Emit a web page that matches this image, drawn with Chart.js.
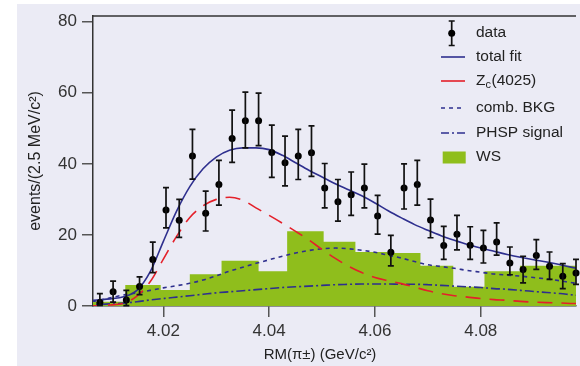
<!DOCTYPE html>
<html><head><meta charset="utf-8">
<script src="https://cdn.jsdelivr.net/npm/chart.js@4"></script>
<style>html,body{margin:0;padding:0;background:#fff;}canvas{display:block;}</style>
</head><body>
<canvas id="c" width="580" height="366"></canvas>
<script>
// ---- data ----
const dataX = [4.0080,4.0105,4.0130,4.0155,4.0180,4.0205,4.0230,4.0255,4.0280,4.0305,4.0330,4.0355,4.0380,4.0405,4.0430,4.0455,4.0480,4.0505,4.0530,4.0555,4.0580,4.0605,4.0630,4.0655,4.0680,4.0705,4.0730,4.0755,4.0780,4.0805,4.0830,4.0855,4.0880,4.0905,4.0930,4.0955,4.0980];
const dataY = [1.0,4.0,1.7,5.5,13.1,27.0,24.1,42.2,26.1,34.2,47.1,52.1,52.1,43.2,40.3,42.2,43.1,33.2,29.3,31.3,33.2,25.3,15.1,33.2,34.2,24.2,17.0,20.2,17.1,16.3,18.0,12.1,10.3,14.2,11.2,8.4,9.3];
const errUp   = [2.5,3.0,2.7,2.7,4.9,6.3,5.9,7.5,6.2,6.8,8.0,8.1,7.8,7.7,7.5,7.5,7.6,6.9,6.3,6.4,6.7,5.8,4.8,6.8,6.8,5.9,5.4,5.3,5.2,5.0,5.4,4.5,3.7,4.5,4.0,3.5,3.8];
const errDown = [0.8,2.9,1.6,2.3,3.7,5.0,4.8,6.5,5.0,5.8,6.7,7.6,7.0,7.0,6.5,6.6,6.6,5.6,5.4,5.8,5.6,5.1,3.8,5.9,5.8,5.0,3.9,4.4,4.0,4.2,3.7,3.3,3.8,3.9,3.7,3.5,3.2];

const fitX = [4.0050,4.0075,4.0100,4.0125,4.0150,4.0175,4.0200,4.0225,4.0250,4.0275,4.0300,4.0325,4.0350,4.0375,4.0400,4.0425,4.0450,4.0475,4.0500,4.0525,4.0550,4.0575,4.0600,4.0625,4.0650,4.0675,4.0700,4.0725,4.0750,4.0775,4.0800,4.0825,4.0850,4.0875,4.0900,4.0925,4.0950,4.0975,4.1000];
const totalFit = [1.4,1.7,2.0,2.6,4.4,9.6,18.2,26.7,33.6,38.6,41.9,43.8,44.5,44.5,44.0,42.4,40.3,38.2,36.3,34.4,32.7,31.0,29.0,26.8,24.8,22.9,21.3,19.8,18.5,17.3,16.3,15.4,14.5,13.7,13.0,12.4,11.6,10.8,10.2];
const zc4025   = [0,0.05,0.3,0.8,2.8,6.8,13.2,19.6,24.9,28.2,30.0,30.6,29.8,27.6,25.5,23.3,21.0,18.6,15.9,13.4,11.2,9.4,8.0,7.1,6.3,5.3,4.3,3.5,2.9,2.5,2.1,1.8,1.6,1.3,1.1,0.95,0.85,0.7,0.65];
const combBkg  = [1.2,1.5,2.3,3.1,3.7,4.4,5.1,5.7,6.4,7.3,8.5,9.8,10.9,12.0,13.0,14.0,14.9,15.6,16.1,16.3,16.1,15.7,15.1,14.3,13.5,12.5,11.6,11.1,10.6,10.0,9.5,9.0,8.7,8.4,8.0,7.6,7.1,6.5,6.1];
const phspSig  = [0.2,0.4,0.6,0.8,1.2,1.7,2.1,2.5,2.9,3.3,3.7,4.0,4.3,4.6,4.9,5.2,5.4,5.6,5.8,6.0,6.1,6.2,6.2,6.2,6.1,6.1,6.0,5.8,5.6,5.4,5.2,4.9,4.7,4.4,4.1,3.8,3.5,3.1,2.8];

const wsEdges   = [4.0040,4.0128,4.0195,4.0250,4.0310,4.0380,4.0434,4.0503,4.0563,4.0623,4.0686,4.0748,4.0807,4.0874,4.1000];
const wsHeights = [1.2,5.9,4.5,8.9,12.7,9.8,21.0,18.1,15.2,14.9,11.3,5.4,9.8,11.3];

const xTicks = [4.02,4.04,4.06,4.08];
const yTicks = [0,20,40,60,80];
const legendLabels = ['data','total fit','Zc(4025)','comb. BKG','PHSP signal','WS'];

// ---- styling ----
const NAVY = '#2e2f8e', RED = '#e4202a', GREEN = '#8fbe1c', BG = '#ebebf5';
const FONT = '"Liberation Sans", Arial, sans-serif';
Chart.defaults.font.family = FONT;

const pts = (xs, ys) => xs.map((x, i) => ({x, y: ys[i]}));
const wsData = wsEdges.map((e, i) => ({x: e, y: wsHeights[Math.min(i, wsHeights.length - 1)]}));

const bgPlugin = {
  id: 'bg',
  beforeDraw(chart) {
    const c = chart.ctx;
    c.save();
    c.fillStyle = '#ffffff'; c.fillRect(0, 0, chart.width, chart.height);
    c.fillStyle = BG; c.fillRect(17, 4, chart.width - 17, chart.height - 4);
    c.restore();
  },
  afterDraw(chart) {
    const c = chart.ctx, a = chart.chartArea;
    c.save();
    c.strokeStyle = '#333'; c.lineWidth = 1.5;
    c.beginPath(); c.moveTo(a.left, a.top); c.lineTo(a.right, a.top); c.stroke();
    // x axis title
    c.fillStyle = '#222'; c.font = '15px ' + FONT; c.textAlign = 'center'; c.textBaseline = 'middle';
    c.fillText('RM(\u03C0\u00B1) (GeV/c\u00B2)', 320, 355);
    c.restore();
  }
};

const errorBarPlugin = {
  id: 'errorBars',
  afterDatasetsDraw(chart) {
    const meta = chart.getDatasetMeta(0);
    const ys = chart.scales.y, c = chart.ctx;
    c.save();
    c.strokeStyle = '#111'; c.lineWidth = 1.7;
    meta.data.forEach((p, i) => {
      const yt = ys.getPixelForValue(dataY[i] + errUp[i]);
      const yb = ys.getPixelForValue(dataY[i] - errDown[i]);
      c.beginPath();
      c.moveTo(p.x, yt); c.lineTo(p.x, yb);
      c.moveTo(p.x - 3, yt); c.lineTo(p.x + 3, yt);
      c.moveTo(p.x - 3, yb); c.lineTo(p.x + 3, yb);
      c.stroke();
    });
    c.restore();
  }
};

const legendPlugin = {
  id: 'customLegend',
  afterDraw(chart) {
    const c = chart.ctx;
    const tx = 476, l0 = 441, l1 = 465;
    const rows = [33, 57, 81, 108, 133, 157];
    c.save();
    // data symbol
    c.strokeStyle = '#111'; c.lineWidth = 1.7;
    c.beginPath();
    c.moveTo(451.7, 21); c.lineTo(451.7, 45.5);
    c.moveTo(448.7, 21); c.lineTo(454.7, 21);
    c.moveTo(448.7, 45.5); c.lineTo(454.7, 45.5);
    c.stroke();
    c.fillStyle = '#000'; c.beginPath(); c.arc(451.7, 33.3, 3.5, 0, Math.PI * 2); c.fill();
    const seg = (y, col, dash) => {
      c.strokeStyle = col; c.lineWidth = 1.6; c.setLineDash(dash);
      c.beginPath(); c.moveTo(l0, y); c.lineTo(l1, y); c.stroke(); c.setLineDash([]);
    };
    seg(rows[1], NAVY, []);
    seg(rows[2], RED, []);
    seg(rows[3], NAVY, [4, 4]);
    seg(rows[4], NAVY, [8, 3, 2, 3]);
    c.fillStyle = GREEN; c.fillRect(442.7, 151.5, 23, 12);
    // text
    c.fillStyle = '#222'; c.textBaseline = 'middle'; c.textAlign = 'left';
    c.font = '15.5px ' + FONT;
    legendLabels.forEach((t, i) => {
      if (i === 2) {
        c.fillText('Z', tx, rows[i]);
        let w = c.measureText('Z').width;
        c.font = '11px ' + FONT;
        c.fillText('c', tx + w, rows[i] + 4);
        const w2 = c.measureText('c').width;
        c.font = '15.5px ' + FONT;
        c.fillText('(4025)', tx + w + w2 + 0.5, rows[i]);
      } else {
        c.fillText(t, tx, rows[i]);
      }
    });
    c.restore();
  }
};

new Chart(document.getElementById('c'), {
  type: 'line',
  data: {
    datasets: [
      { type: 'scatter', label: legendLabels[0], data: pts(dataX, dataY), order: 0,
        pointRadius: 3.5, pointBackgroundColor: '#000', pointBorderWidth: 0, showLine: false, clip: false },
      { label: legendLabels[1], data: pts(fitX, totalFit), order: 1, borderColor: NAVY, borderWidth: 1.6,
        pointRadius: 0, cubicInterpolationMode: 'monotone', fill: false },
      { label: legendLabels[2], data: pts(fitX, zc4025), order: 2, borderColor: RED, borderWidth: 1.6,
        borderDash: [15, 9], pointRadius: 0, cubicInterpolationMode: 'monotone', fill: false },
      { label: legendLabels[3], data: pts(fitX, combBkg), order: 3, borderColor: NAVY, borderWidth: 1.6,
        borderDash: [4, 4], pointRadius: 0, cubicInterpolationMode: 'monotone', fill: false },
      { label: legendLabels[4], data: pts(fitX, phspSig), order: 4, borderColor: NAVY, borderWidth: 1.6,
        borderDash: [9, 3, 2, 3], pointRadius: 0, cubicInterpolationMode: 'monotone', fill: false },
      { label: legendLabels[5], data: wsData, order: 5, stepped: 'before', borderWidth: 0,
        borderColor: GREEN, backgroundColor: GREEN, fill: 'origin', pointRadius: 0 }
    ]
  },
  options: {
    responsive: false, animation: false, devicePixelRatio: 1,
    layout: { padding: { top: 16, left: 0, right: 0, bottom: 0 } },
    plugins: { legend: { display: false }, tooltip: { enabled: false } },
    scales: {
      x: {
        type: 'linear', min: 4.0067, max: 4.098,
        afterBuildTicks: s => { s.ticks = xTicks.map(v => ({value: v})); },
        afterFit: s => { s.height = 60; },
        grid: { drawOnChartArea: false, tickLength: 11, color: '#555', lineWidth: 1.5 },
        border: { display: true, color: '#333', width: 1.5 },
        ticks: { font: { size: 17 }, color: '#333', padding: 4, maxRotation: 0, autoSkip: false,
                 callback: v => Number(v).toFixed(2) }
      },
      y: {
        min: 0, max: 81.6,
        afterBuildTicks: s => { s.ticks = yTicks.map(v => ({value: v})); },
        afterFit: s => { s.width = 93; },
        grid: { drawOnChartArea: false, tickLength: 11, color: '#555', lineWidth: 1.5 },
        border: { display: true, color: '#333', width: 1.5 },
        ticks: { font: { size: 17 }, color: '#333', padding: 5 },
        title: { display: true, text: 'events/(2.5 MeV/c\u00B2)', font: { size: 16 }, color: '#222',
                 padding: { top: 26, bottom: 0 } }
      }
    }
  },
  plugins: [bgPlugin, errorBarPlugin, legendPlugin]
});
</script>
</body></html>
